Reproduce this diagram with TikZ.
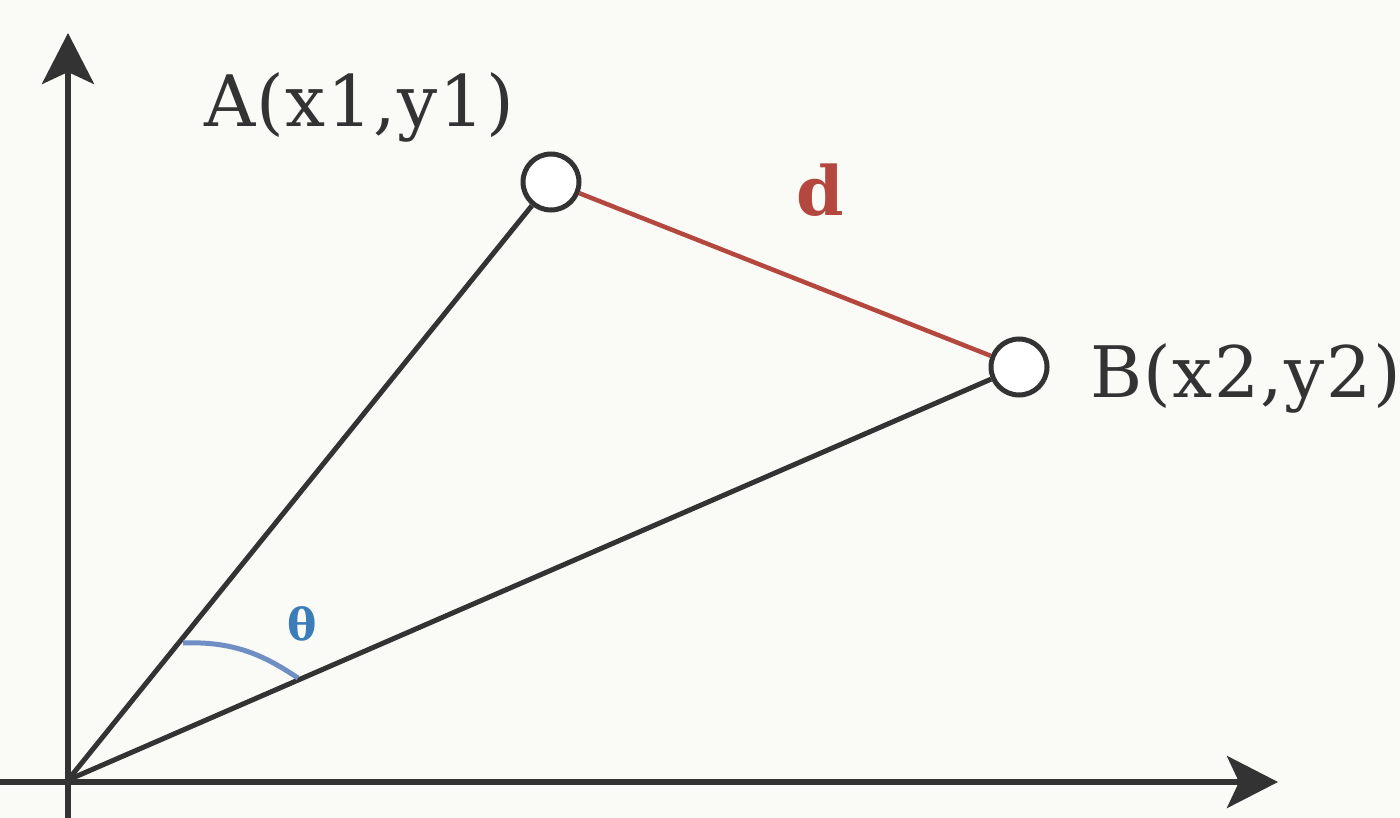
\documentclass[tikz,border=0pt]{standalone}
\usepackage{fontspec}
\setmainfont{DejaVu Serif}
\newfontfamily\labelfont[LetterSpace=2]{DejaVu Serif}
\usetikzlibrary{arrows.meta,positioning,calc}
\definecolor{inkgray}{HTML}{333333}
\definecolor{distred}{HTML}{B5483E}
\definecolor{arcblue}{HTML}{6F8FC4}
\definecolor{thetablue}{HTML}{3B7DB8}
\definecolor{paper}{HTML}{FAFAF7}
\tikzset{
  axis/.style={line width=5.5pt,inkgray,-{Stealth[length=51pt,width=52pt,inset=12pt]}},
  ray/.style={line width=5pt,inkgray},
  pointnode/.style={circle,draw=inkgray,line width=5pt,fill=white,minimum size=56pt,inner sep=0pt},
  coordlabel/.style={anchor=base west,inner sep=0pt,text=inkgray,font=\labelfont\fontsize{71}{80}\selectfont}
}
\begin{document}
\begin{tikzpicture}[x=1pt,y=-1pt]
        % background and size
        \fill[paper] (0,0) rectangle (1400,818);
        \useasboundingbox (0,0) rectangle (1400,818);
        % draw axes
        \coordinate (O) at (68,780);
        \coordinate (xstart) at (0,782);
        \coordinate (xend) at (1278,782);
        \coordinate (ystart) at (68,818);
        \coordinate (yend) at (68,33);
        \draw[axis] (xstart) -- (xend);
        \draw[axis] (ystart) -- (yend);
        % draw points
        \node[pointnode] (A) at (551,182) {};
        \node[pointnode] (B) at (1019,367) {};
        % draw rays and distance
        \draw[ray] (O) -- (A);
        \draw[ray] (O) -- (B);
        \draw[line width=4.5pt,distred] (A) -- (B);
        % draw angle
        \coordinate (arcstart) at (183,643);
        \coordinate (arcend) at (298,678);
        \draw[line width=5pt,arcblue] (arcstart) .. controls (235,641) and (265,656) .. (arcend);
        % draw labels
        \node[coordlabel] (Alabel) at (204,127) {A(x1,y1)};
        \node[coordlabel] (Blabel) at (1090,397) {B(x2,y2)};
        \node[text=distred,font=\fontsize{68}{76}\selectfont\bfseries] (dlabel) at (820,190) {d};
        \node[text=thetablue,font=\fontsize{44}{50}\selectfont\bfseries] (thetalabel) at (302,624) {θ};
\end{tikzpicture}
\end{document}
